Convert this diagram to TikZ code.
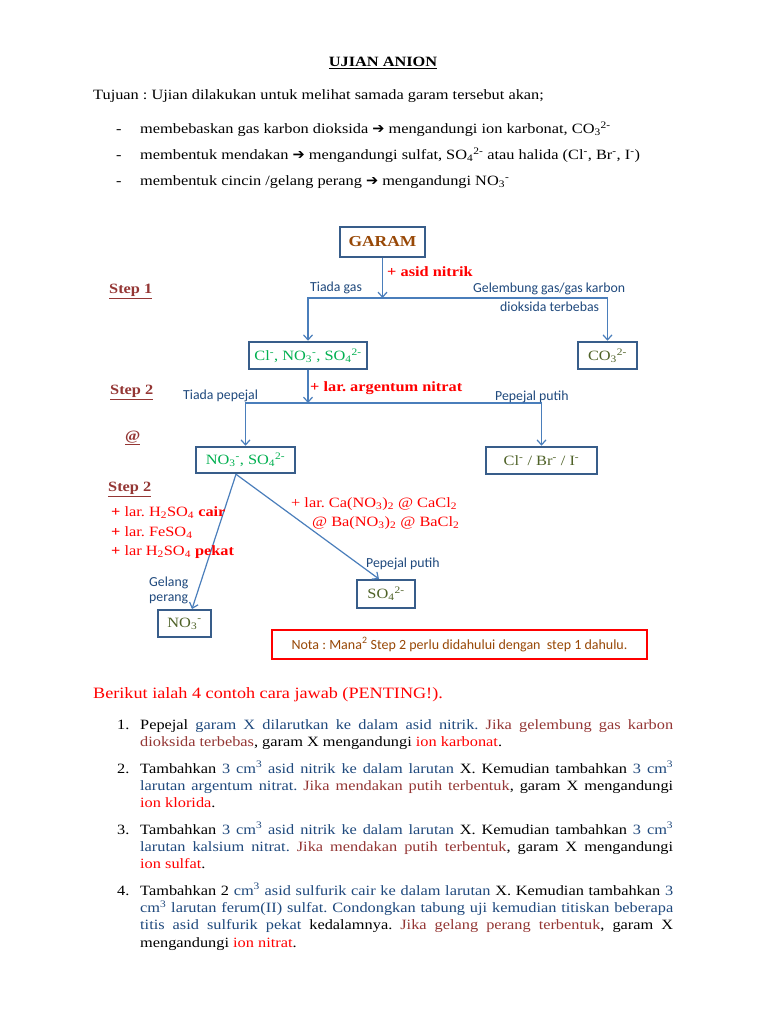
\documentclass[tikz,border=0pt]{standalone}
\usepackage{fontspec}
\setmainfont{Liberation Serif}[FakeStretch=1.15]
\newfontfamily\lbl{Carlito}
\newfontfamily\symf{DejaVu Sans}
\usetikzlibrary{arrows.meta,calc}
\definecolor{boxblue}{HTML}{385D8A}
\definecolor{arrblue}{HTML}{4A7EBB}
\definecolor{txtblue}{HTML}{1F497D}
\definecolor{dred}{HTML}{943634}
\definecolor{brn}{HTML}{984806}
\definecolor{iongreen}{HTML}{00B050}
\definecolor{olive}{HTML}{4F6228}
\definecolor{myred}{HTML}{FF0000}
\newcommand\sbs[1]{\textsubscript{#1}}
\newcommand\sps[1]{\textsuperscript{#1}}
\newcommand\harrow{{\symf\fontsize{14.5}{17}\selectfont ➔}}
\frenchspacing
\begin{document}
\begin{tikzpicture}[x=1pt,y=-1pt,
  every node/.style={inner sep=0pt, font=\fontsize{14.2}{17.4}\selectfont},
  txt/.style={anchor=base west},
  lab/.style={anchor=base west, text=txtblue, font=\lbl\fontsize{13.8}{16}\selectfont},
  redlab/.style={anchor=base west, text=myred},
  steplab/.style={anchor=base west, text=dred, font=\fontsize{14.2}{17.4}\selectfont\bfseries},
  ionbox/.style={draw=boxblue, line width=2.5pt, rectangle, inner sep=0pt},
  arr/.style={draw=arrblue, line width=1.2pt, -{Straight Barb[length=5pt,width=9pt]}},
  para/.style={anchor=north west, text width=533pt, align=justify},
  num/.style={anchor=base west}
]
\useasboundingbox (0,0) rectangle (768,1024);
\fill[white] (0,0) rectangle (768,1024);

% header
\node[anchor=base, font=\fontsize{14.2}{17.4}\selectfont\bfseries] (title) at (383,66.5) {\underline{UJIAN ANION}};
\node[txt] (tujuan) at (93,99.5) {Tujuan : Ujian dilakukan untuk melihat samada garam tersebut akan;};
\node[txt] (d1) at (116,133.5) {-};
\node[txt] (b1) at (140,133.5) {membebaskan gas karbon dioksida \harrow{} mengandungi ion karbonat, CO\sbs{3}\sps{2-}};
\node[txt] (d2) at (116,159.5) {-};
\node[txt] (b2) at (140,159.5) {membentuk mendakan \harrow{} mengandungi sulfat, SO\sbs{4}\sps{2-} atau halida (Cl\sps{-}, Br\sps{-}, I\sps{-})};
\node[txt] (d3) at (116,185.5) {-};
\node[txt] (b3) at (140,185.5) {membentuk cincin /gelang perang \harrow{} mengandungi NO\sbs{3}\sps{-}};

% flowchart boxes
\node[ionbox, minimum width=85pt, minimum height=30pt, text=brn, font=\fontsize{15.2}{18}\selectfont\bfseries] (garam) at (382.5,242) {GARAM};
\node[ionbox, minimum width=118pt, minimum height=27pt, text=iongreen] (clbox) at (308,355.5) {Cl\sps{-}, NO\sbs{3}\sps{-}, SO\sbs{4}\sps{2-}};
\node[ionbox, minimum width=59pt, minimum height=27pt, text=olive] (co3) at (607.5,355.5) {CO\sbs{3}\sps{2-}};
\node[ionbox, minimum width=99pt, minimum height=26pt, text=iongreen] (nsbox) at (245.5,460) {NO\sbs{3}\sps{-}, SO\sbs{4}\sps{2-}};
\node[ionbox, minimum width=111pt, minimum height=27pt, text=olive] (halbox) at (541.5,460.5) {Cl\sps{-} / Br\sps{-} / I\sps{-}};
\node[ionbox, line width=2pt, minimum width=58pt, minimum height=28pt, text=olive] (so4) at (386,594) {SO\sbs{4}\sps{2-}};
\node[ionbox, line width=2pt, minimum width=53pt, minimum height=27pt, text=olive] (no3) at (184.5,623.5) {NO\sbs{3}\sps{-}};
\node[draw=myred, line width=2pt, minimum width=375pt, minimum height=29pt, text=brn, font=\lbl\fontsize{14}{16}\selectfont] (nota) at (459.5,644.5) {Nota : Mana\sps{2} Step 2 perlu didahului dengan\ \ step 1 dahulu.};

% connectors
\coordinate (j1) at (382.5,298);
\draw[arr] (garam.south) -- (j1);
\draw[arr] (j1) -| (clbox.north);
\draw[arr] (j1) -| (co3.north);
\coordinate (j2) at (308,403);
\draw[arr] (clbox.south) -- (j2);
\draw[arr] (j2) -| (nsbox.north);
\draw[arr] (j2) -| (halbox.north);
\coordinate (d0) at ($(nsbox.south)+(-9.5,0)$);
\draw[arr] (d0) -- ($(no3.north)+(7.5,0)$);
\draw[arr] (d0) -- ($(so4.north)+(-7,0)$);

% flowchart labels
\node[steplab] (s1) at (109,293.5) {\underline{Step 1}};
\node[steplab] (s2) at (110,394.5) {\underline{Step 2}};
\node[steplab] (at) at (125,440.5) {\underline{@}};
\node[steplab] (s3) at (108,491.5) {\underline{Step 2}};
\node[redlab, font=\fontsize{14.2}{17.4}\selectfont\bfseries] (l1) at (387,276.5) {+ asid nitrik};
\node[lab] (l2) at (310,291.5) {Tiada gas};
\node[lab] (l3) at (473,292.5) {Gelembung gas/gas karbon};
\node[lab] (l4) at (500,311.5) {dioksida terbebas};
\node[redlab, font=\fontsize{14.2}{17.4}\selectfont\bfseries] (l5) at (310,391.5) {+ lar. argentum nitrat};
\node[lab] (l6) at (183,399.5) {Tiada pepejal};
\node[lab] (l7) at (495,400.5) {Pepejal putih};
\node[redlab] (l8) at (291,507.5) {+ lar. Ca(NO\sbs{3})\sbs{2} @ CaCl\sbs{2}};
\node[redlab] (l9) at (312,526.5) {@ Ba(NO\sbs{3})\sbs{2} @ BaCl\sbs{2}};
\node[redlab] (l10) at (111,516.5) {\textbf{+} lar. H\sbs{2}SO\sbs{4} \textbf{cair}};
\node[redlab] (l11) at (111,536) {\textbf{+} lar. FeSO\sbs{4}};
\node[redlab] (l12) at (111,555.5) {\textbf{+} lar H\sbs{2}SO\sbs{4} \textbf{pekat}};
\node[lab] (l13) at (366,567.5) {Pepejal putih};
\node[lab] (l14) at (149,586.5) {Gelang};
\node[lab] (l15) at (149,601.5) {perang};

% bottom section
\node[txt, text=myred, font=\fontsize{15.8}{20}\selectfont] (berikut) at (93,698) {Berikut ialah 4 contoh cara jawab (PENTING!).};

\node[num] (n1) at (117,729) {1.};
\node[para] (p1) at (140,716.8) {\strut Pepejal \textcolor{txtblue}{garam X dilarutkan ke dalam asid nitrik.} \textcolor{dred}{Jika gelembung gas karbon\linebreak dioksida terbebas}, garam X mengandungi \textcolor{myred}{ion karbonat}.};

\node[num] (n2) at (117,773) {2.};
\node[para] (p2) at (140,760.8) {\strut Tambahkan \textcolor{txtblue}{3 cm\sps{3} asid nitrik ke dalam larutan} X. Kemudian tambahkan \textcolor{txtblue}{3 cm\sps{3}\linebreak larutan argentum nitrat.} \textcolor{dred}{Jika mendakan putih terbentuk}, garam X mengandungi\linebreak \textcolor{myred}{ion klorida}.};

\node[num] (n3) at (117,834) {3.};
\node[para] (p3) at (140,821.8) {\strut Tambahkan \textcolor{txtblue}{3 cm\sps{3} asid nitrik ke dalam larutan} X. Kemudian tambahkan \textcolor{txtblue}{3 cm\sps{3}\linebreak larutan kalsium nitrat.} \textcolor{dred}{Jika mendakan putih terbentuk}, garam X mengandungi\linebreak \textcolor{myred}{ion sulfat}.};

\node[num] (n4) at (117,895) {4.};
\node[para] (p4) at (140,882.8) {\strut Tambahkan 2 \textcolor{txtblue}{cm\sps{3} asid sulfurik cair ke dalam larutan} X. Kemudian tambahkan \textcolor{txtblue}{3\linebreak cm\sps{3} larutan ferum(II) sulfat. Condongkan tabung uji kemudian titiskan beberapa\linebreak titis asid sulfurik pekat} kedalamnya. \textcolor{dred}{Jika gelang perang terbentuk}, garam X\linebreak mengandungi \textcolor{myred}{ion nitrat}.};
\end{tikzpicture}
\end{document}
